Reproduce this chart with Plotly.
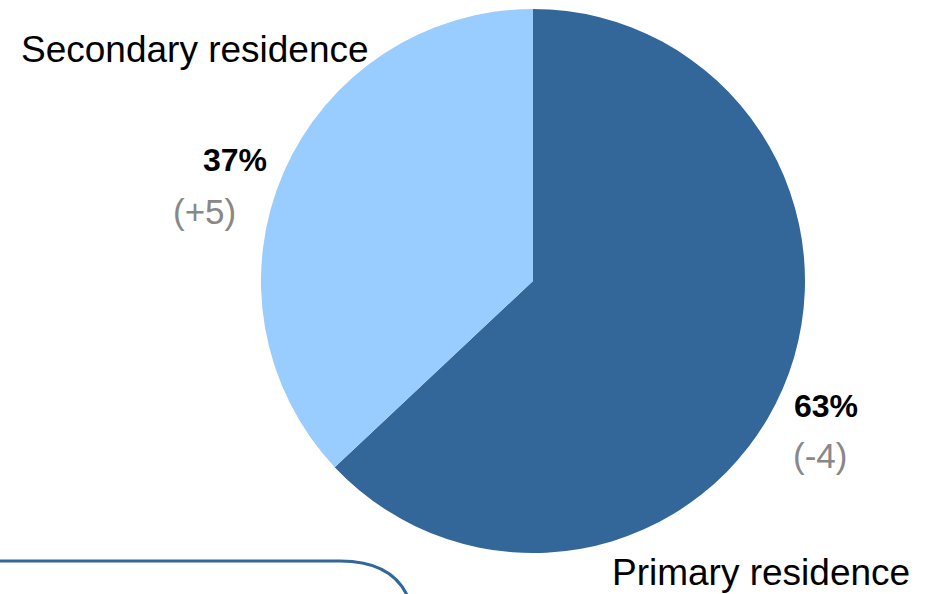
import plotly.graph_objects as go

# Data
labels = ["Secondary residence", "Primary residence"]
values = [37, 63]
changes = ["(+5)", "(-4)"]
colors = ["#99CCFF", "#336699"]

W, H = 935, 594
OFF = 0  # page body margin removed via post_script

def px(x):
    return (x - OFF) / W

def py(y):
    return 1 - (y - OFF) / H

fig = go.Figure()
fig.add_trace(go.Pie(
    labels=labels[::-1],
    values=values[::-1],
    sort=False,
    direction="clockwise",
    rotation=0,
    marker=dict(colors=colors[::-1], line=dict(width=0)),
    textinfo="none",
    hoverinfo="skip",
    showlegend=False,
    domain=dict(x=[px(261), px(805)], y=[py(553), py(9)]),
))

FONT = "Liberation Sans, Arial, sans-serif"

pos = {
    0: dict(cat=(195, 49), pct=(235, 160), chg=(204, 212)),
    1: dict(cat=(761, 572), pct=(826, 406), chg=(820, 456)),
}

for i, lab in enumerate(labels):
    p = pos[i]
    fig.add_annotation(x=px(p["cat"][0]), y=py(p["cat"][1]), xref="paper", yref="paper",
                       text=lab, showarrow=False, xanchor="center", yanchor="middle",
                       font=dict(family=FONT, size=37, color="#000000"))
    fig.add_annotation(x=px(p["pct"][0]), y=py(p["pct"][1]), xref="paper", yref="paper",
                       text=f"<b>{values[i]}%</b>", showarrow=False, xanchor="center", yanchor="middle",
                       font=dict(family=FONT, size=32, color="#000000"))
    fig.add_annotation(x=px(p["chg"][0]), y=py(p["chg"][1]), xref="paper", yref="paper",
                       text=changes[i], showarrow=False, xanchor="center", yanchor="middle",
                       font=dict(family=FONT, size=35, color="#888888"))

path = (f"M {px(-20)},{py(561)} L {px(340)},{py(561)} "
        f"Q {px(415)},{py(561)} {px(415)},{py(636)} L {px(415)},{py(700)}")
fig.add_shape(type="path", path=path, xref="paper", yref="paper",
              line=dict(color="#336699", width=3))

fig.update_layout(
    width=W, height=H,
    margin=dict(l=0, r=0, t=0, b=0),
    paper_bgcolor="white",
    plot_bgcolor="white",
)

fig.write_html("out.html",
               config={"displayModeBar": False},
               post_script="document.body.style.margin='0';document.body.style.overflow='hidden';")
